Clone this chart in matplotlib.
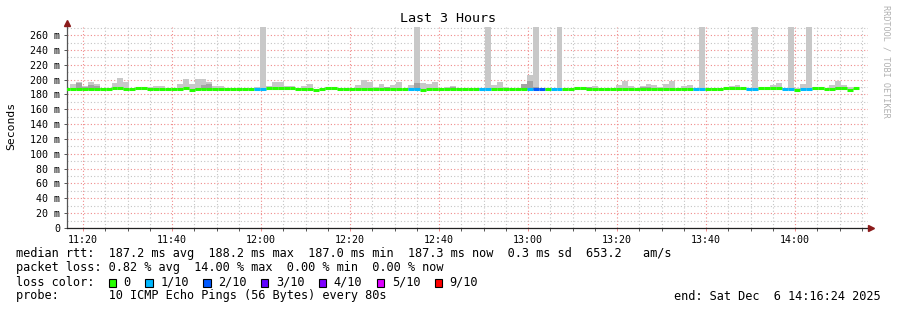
import numpy as np
import matplotlib
matplotlib.use("Agg")
import matplotlib.pyplot as plt
from matplotlib.ticker import MultipleLocator, FuncFormatter

# =========================================================
# DATA (80 s steps)
# =========================================================

# first step starts 11:15:44, in minutes after midnight
STEP_START = 11 * 60 + 15 + 44 / 60
STEP_MIN = 80 / 60
VIEW_START = 11 * 60 + 16.4
VIEW_END = 14 * 60 + 16.4

# median rtt per step (ms)
median = [
    187.2, 187.2, 187.2, 187.2, 187.2, 187.2, 187.2, 187.2, 188.2, 188.2,
    187.2, 187.2, 188.2, 188.2, 187.2, 187.2, 187.2, 187.2, 187.2, 187.2,
    188.2, 186.5, 187.5, 187.5, 187.5, 187.5, 187.5, 187.2, 187.2, 187.2,
    187.2, 187.2, 187.2, 187.2, 188.2, 188.2, 188.2, 188.2, 188.2, 187.2,
    187.2, 187.2, 186.5, 187.2, 188.2, 188.2, 187.2, 187.2, 187.2, 187.2,
    187.2, 187.2, 187.2, 187.2, 187.2, 187.2, 187.2, 187.2, 187.2, 187.2,
    186.5, 187.2, 187.2, 187.2, 187.2, 187.2, 187.2, 187.2, 187.2, 187.2,
    187.2, 187.2, 187.2, 187.2, 187.2, 187.2, 187.2, 187.2, 187.2, 187.2,
    187.2, 187.2, 187.2, 187.2, 187.2, 187.2, 188.2, 188.2, 187.2, 187.2,
    187.2, 187.2, 187.2, 187.2, 187.2, 187.2, 187.2, 187.2, 187.2, 187.2,
    187.2, 187.2, 187.2, 187.2, 187.2, 187.2, 187.2, 187.2, 187.2, 187.2,
    187.2, 188.2, 188.2, 188.2, 188.2, 187.2, 187.2, 188.2, 188.2, 188.2,
    188.2, 187.2, 187.2, 186.5, 187.2, 187.2, 188.2, 188.2, 187.2, 187.2,
    188.2, 188.2, 186.5, 188.2,
]

# slowest ping per step (ms) -> light smoke top; 300 = off the chart
smoke_hi = [
    188.0, 193.6, 197.0, 191.4, 197.0, 193.6, 188.2, 189.0, 195.8, 202.0,
    197.2, 188.0, 188.5, 188.5, 190.0, 191.4, 191.4, 188.0, 188.0, 193.6,
    200.8, 193.6, 200.8, 200.8, 197.0, 191.4, 191.4, 188.8, 189.0, 189.0,
    189.0, 189.0, 190.0, 300.0, 191.4, 196.8, 196.8, 191.4, 191.4, 188.7,
    191.4, 194.0, 188.0, 188.0, 190.0, 190.0, 188.5, 188.5, 189.0, 192.7,
    199.5, 197.2, 190.0, 194.0, 190.0, 192.7, 196.8, 188.0, 192.7, 300.0,
    195.8, 194.0, 196.8, 188.0, 190.0, 191.4, 189.0, 188.5, 188.0, 188.5,
    188.5, 300.0, 192.7, 196.8, 190.0, 188.5, 188.0, 194.0, 206.2, 300.0,
    189.0, 188.0, 188.0, 300.0, 188.0, 188.0, 188.5, 188.5, 190.0, 191.0,
    188.5, 188.0, 188.0, 192.7, 198.0, 191.4, 188.0, 191.4, 194.0, 192.7,
    190.0, 194.0, 198.0, 188.0, 191.4, 192.7, 188.5, 300.0, 188.0, 189.0,
    189.0, 188.5, 191.4, 192.7, 188.5, 188.5, 300.0, 188.5, 188.5, 192.7,
    195.4, 188.5, 300.0, 188.5, 194.0, 300.0, 189.5, 189.5, 188.0, 192.7,
    198.0, 192.7, 190.0, 188.5,
]

# denser inner part of the smoke (ms), 0 = none
smoke_dark = [
    0, 0, 195.0, 189.5, 192.7, 191.4, 0, 0, 0, 0,
    0, 0, 0, 0, 0, 189.0, 0, 0, 0, 0,
    0, 0, 189.0, 193.0, 193.6, 0, 0, 0, 0, 0,
    0, 0, 0, 0, 0, 0, 0, 0, 0, 0,
    0, 0, 0, 0, 0, 0, 0, 0, 0, 0,
    0, 0, 0, 0, 189.5, 0, 0, 0, 0, 195.8,
    0, 0, 0, 0, 0, 190.0, 0, 0, 0, 0,
    0, 0, 0, 0, 0, 0, 0, 194.0, 198.0, 190.0,
    0, 0, 0, 0, 0, 0, 0, 0, 190.0, 0,
    0, 0, 0, 0, 0, 0, 0, 190.0, 190.0, 0,
    0, 0, 0, 0, 0, 0, 0, 0, 0, 0,
    0, 0, 0, 0, 0, 0, 0, 0, 0, 0,
    0, 0, 0, 0, 0, 0, 0, 0, 0, 0,
    190.0, 190.0, 0, 0,
]

# lost pings out of 10 per step
loss = [
    0, 0, 0, 0, 0, 0, 0, 0, 0, 0,
    0, 0, 0, 0, 0, 0, 0, 0, 0, 0,
    0, 0, 0, 0, 0, 0, 0, 0, 0, 0,
    0, 0, 1, 1, 0, 0, 0, 0, 0, 0,
    0, 0, 0, 0, 0, 0, 0, 0, 0, 0,
    0, 0, 0, 0, 0, 0, 0, 0, 1, 1,
    0, 0, 0, 0, 0, 0, 0, 0, 0, 0,
    1, 1, 0, 0, 0, 0, 0, 0, 1, 2,
    2, 0, 1, 1, 0, 0, 0, 0, 0, 0,
    0, 0, 0, 0, 0, 0, 0, 0, 0, 0,
    0, 0, 0, 0, 0, 0, 1, 1, 0, 0,
    0, 0, 0, 0, 0, 1, 1, 0, 0, 0,
    0, 1, 1, 0, 1, 1, 0, 0, 0, 0,
    0, 0, 0, 0,
]

loss_levels = [0, 1, 2, 3, 4, 5, 9]
loss_labels = ["0", "1/10", "2/10", "3/10", "4/10", "5/10", "9/10"]
loss_colors = ["#26ff00", "#00b8ff", "#0059ff", "#5e00ff",
               "#7e00ff", "#dd00ff", "#ff0000"]

stats_lines = [
    "median rtt:  187.2 ms avg  188.2 ms max  187.0 ms min  "
    "187.3 ms now  0.3 ms sd  653.2   am/s",
    "packet loss: 0.82 % avg  14.00 % max  0.00 % min  0.00 % now",
]
probe_line = "probe:       10 ICMP Echo Pings (56 Bytes) every 80s"
end_line = "end: Sat Dec  6 14:16:24 2025"

# =========================================================
# STYLE
# =========================================================

W, H = 897, 310
MONO = "DejaVu Sans Mono"
SMOKE_LIGHT = "#c8c8c8"
SMOKE_DARK = "#a3a3a3"
GRID_MAJOR = "#f08a8a"
GRID_MINOR = "#c4c4c4"
ARROW = "#8b1a1a"
SMOKE_BASE = 186.0

fig = plt.figure(figsize=(W / 100, H / 100), dpi=100)
fig.patch.set_facecolor("white")

ax = fig.add_axes([67 / W, 82 / H, 801 / W, 201 / H])

n = len(median)
t = STEP_START + STEP_MIN * np.arange(n)
median = np.array(median)
hi = np.array(smoke_hi)
dark = np.array(smoke_dark)

# smoke
ax.bar(t, hi - SMOKE_BASE, bottom=SMOKE_BASE, width=STEP_MIN,
       align="edge", color=SMOKE_LIGHT, linewidth=0, zorder=2)
has_dark = dark > 0
ax.bar(t[has_dark], dark[has_dark] - SMOKE_BASE, bottom=SMOKE_BASE,
       width=STEP_MIN, align="edge", color=SMOKE_DARK, linewidth=0,
       zorder=3)

# median line coloured by loss
color_of = dict(zip(loss_levels, loss_colors))
ax.hlines(median, t, t + STEP_MIN,
          colors=[color_of[v] for v in loss],
          linewidth=2.2, capstyle="butt", zorder=4)

# axes, grid
ax.set_xlim(VIEW_START, VIEW_END)
ax.set_ylim(0, 271)

ax.yaxis.set_major_locator(MultipleLocator(20))
ax.yaxis.set_minor_locator(MultipleLocator(10))
ax.xaxis.set_major_locator(MultipleLocator(20))
ax.xaxis.set_minor_locator(MultipleLocator(5))

ax.yaxis.set_major_formatter(
    FuncFormatter(lambda v, p: "0" if v == 0 else f"{int(v)} m"))
ax.xaxis.set_major_formatter(
    FuncFormatter(lambda v, p: f"{int(v // 60):02d}:{int(v % 60):02d}"))

ax.grid(which="major", color=GRID_MAJOR, linestyle=(0, (1, 2)),
        linewidth=0.8)
ax.grid(which="minor", color=GRID_MINOR, linestyle=(0, (1, 2)),
        linewidth=0.8)
ax.set_axisbelow(True)

for side in ("top", "right"):
    ax.spines[side].set_visible(False)
ax.spines["left"].set_color("#555555")
ax.spines["bottom"].set_color("#222222")
ax.spines["left"].set_linewidth(0.9)
ax.spines["bottom"].set_linewidth(0.9)

ax.tick_params(axis="both", which="both", labelsize=7.2,
               length=2, width=0.7, colors="#555555", labelcolor="black")
ax.tick_params(axis="y", which="minor", length=0)
ax.tick_params(axis="x", which="major", color=GRID_MAJOR, pad=3)
ax.tick_params(axis="y", pad=3)
for lab in ax.get_xticklabels() + ax.get_yticklabels():
    lab.set_family(MONO)

# axis arrows
ax.plot([VIEW_START], [276], marker="^", markersize=4.5, color=ARROW,
        clip_on=False, zorder=6)
ax.plot([VIEW_END + 0.6], [0], marker=">", markersize=4.5, color=ARROW,
        clip_on=False, zorder=6)

# titles
fig.text(448 / W, 1 - 19 / H, "Last 3 Hours", ha="center", va="center",
         family=MONO, fontsize=9.6)
fig.text(11 / W, 1 - 126 / H, "Seconds", ha="center", va="center",
         rotation=90, family=MONO, fontsize=8.2)
fig.text(886 / W, 1 - 5 / H, "RRDTOOL / TOBI OETIKER", ha="center",
         va="top", rotation=270, family=MONO, fontsize=6.1,
         color="#b0b0b0")

# =========================================================
# LEGEND BLOCK
# =========================================================

LEG_SIZE = 8.55
CHAR_W = 7.1

def put(xpx, ypx, s, **kw):
    fig.text(xpx / W, 1 - ypx / H, s, va="center", family=MONO,
             fontsize=LEG_SIZE, **kw)

put(16, 254, stats_lines[0])
put(16, 268, stats_lines[1])
put(16, 282, "loss color:")
put(16, 296, probe_line)
put(881, 296, end_line, ha="right")

xsq = 108.5
for lab, col in zip(loss_labels, loss_colors):
    fig.patches.append(plt.Rectangle(
        (xsq / W, 1 - 286.5 / H), 7.5 / W, 8 / H,
        transform=fig.transFigure, facecolor=col, edgecolor="black",
        linewidth=0.8))
    put(xsq + 15, 282, lab)
    xsq += 15 + CHAR_W * len(lab) + 14.5

fig.savefig("out.png", dpi=100)
